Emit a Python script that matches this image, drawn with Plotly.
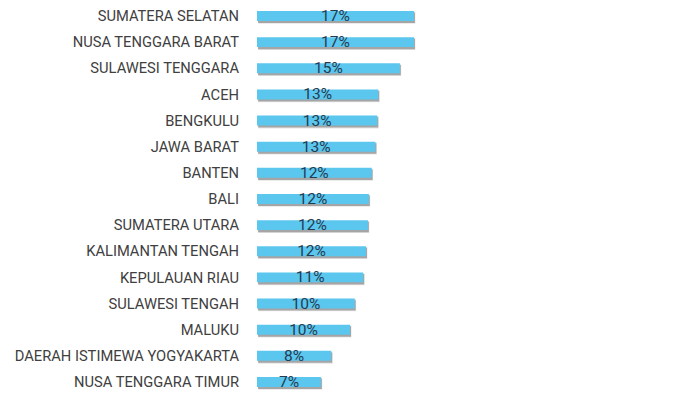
import plotly.graph_objects as go

WIDTH = 700
HEIGHT = 400

# top row is cut off in the reference, only its shadow edge shows
provinces = [
    "_top",
    "SUMATERA SELATAN",
    "NUSA TENGGARA BARAT",
    "SULAWESI TENGGARA",
    "ACEH",
    "BENGKULU",
    "JAWA BARAT",
    "BANTEN",
    "BALI",
    "SUMATERA UTARA",
    "KALIMANTAN TENGAH",
    "KEPULAUAN RIAU",
    "SULAWESI TENGAH",
    "MALUKU",
    "DAERAH ISTIMEWA YOGYAKARTA",
    "NUSA TENGGARA TIMUR",
]
shares = [16.8, 16.7, 16.7, 15.2, 12.9, 12.8, 12.6, 12.2, 11.9, 11.8, 11.6, 11.3, 10.4, 9.9, 7.9, 6.8]

BAR_COLOR = "#5BC6EE"
LABEL_FONT = "Roboto, sans-serif"

fig = go.Figure()

# fake drop shadow: two soft dark bars behind, nudged down and right
fig.add_trace(
    go.Bar(
        y=provinces,
        x=shares,
        base=0.15,
        orientation="h",
        width=0.46,
        offset=-0.16,
        marker_color="rgba(0,0,0,0.10)",
        marker_line_width=0,
        hoverinfo="skip",
    )
)
fig.add_trace(
    go.Bar(
        y=provinces,
        x=shares,
        base=0.1,
        orientation="h",
        width=0.40,
        offset=-0.13,
        marker_color="rgba(0,0,0,0.28)",
        marker_line_width=0,
        hoverinfo="skip",
    )
)
fig.add_trace(
    go.Bar(
        y=provinces,
        x=shares,
        orientation="h",
        width=0.38,
        offset=-0.19,
        marker_color=BAR_COLOR,
        marker_line_width=0,
        # no label on the clipped top bar
        texttemplate=[""] + ["%{x:.0f}%"] * (len(shares) - 1),
        textposition="inside",
        insidetextanchor="middle",
        constraintext="none",
        textfont=dict(family=LABEL_FONT, size=15.5, color="#243B50"),
    )
)

fig.update_layout(
    width=WIDTH,
    height=HEIGHT,
    barmode="overlay",
    showlegend=False,
    plot_bgcolor="white",
    paper_bgcolor="white",
    margin=dict(l=249, r=0, t=0, b=0),
)

fig.update_xaxes(range=[0, 47.98], visible=False, showgrid=False, zeroline=False)
fig.update_yaxes(
    type="category",
    range=[15.997, 0.694],
    showgrid=False,
    zeroline=False,
    showline=False,
    ticks="",
    ticklabelstandoff=17,
    automargin=False,
    tickfont=dict(family=LABEL_FONT, size=14.7, color="#404040"),
)

fig.write_html("out.html")
